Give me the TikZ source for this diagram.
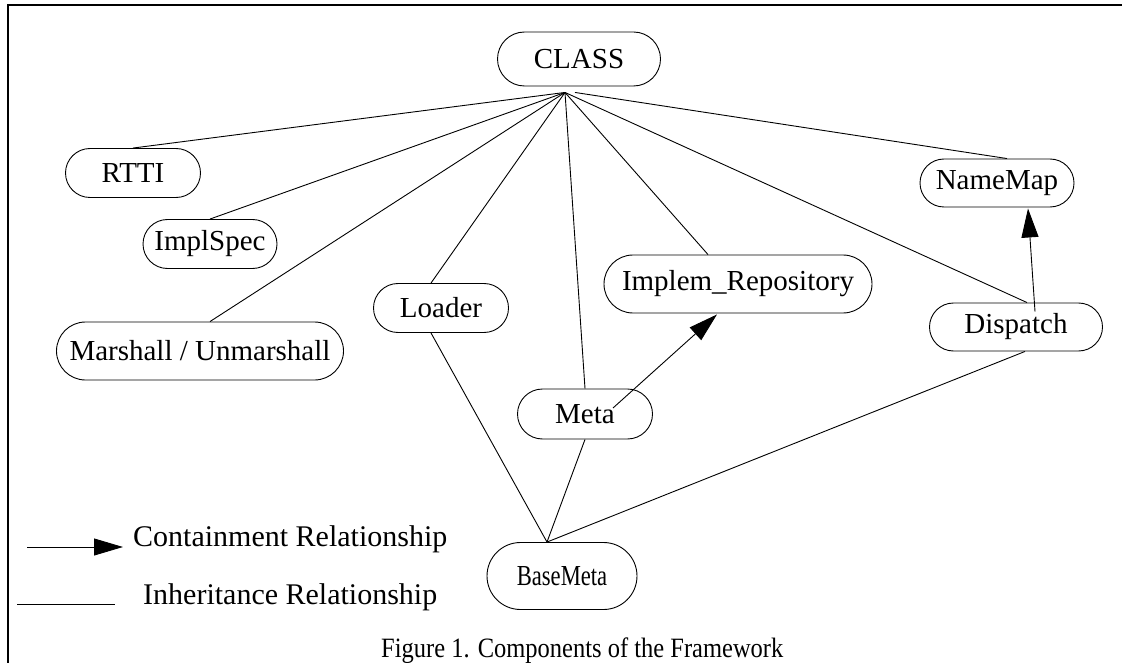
\documentclass[tikz,border=0pt]{standalone}
\usepackage{fontspec}
\setmainfont{Liberation Serif}
\usetikzlibrary{calc, arrows.meta, shapes.misc}

\tikzset{
	comp/.style={draw, rounded rectangle, inner sep=0pt, line width=0.9pt,
		font=\fontsize{29}{32}\selectfont},
	inherit/.style={line width=0.9pt},
	contain/.style={line width=0.9pt, -{Triangle[length=29pt, width=17pt]}},
}

\begin{document}
\begin{tikzpicture}[x=1pt, y=-1pt]
			\useasboundingbox (0,0) rectangle (1122,663);

			% frame
			\draw[line width=1.6pt] (8,663) -- (8,5) -- (1122,5);

			% components
			\node[comp, minimum width=163, minimum height=54] (CLASS) at (579,59) {CLASS};
			\node[comp, minimum width=135, minimum height=49] (RTTI) at (133,173) {RTTI};
			\node[comp, minimum width=134, minimum height=49] (ImplSpec) at (210,244) {ImplSpec};
			\node[comp, minimum width=287, minimum height=58] (Marshall) at (200,351) {Marshall / Unmarshall};
			\node[comp, minimum width=135, minimum height=49] (Loader) at (441,308) {Loader};
			\node[comp, minimum width=268, minimum height=58] (Implem) at (738,284) {Implem\_Repository};
			\node[comp, minimum width=135, minimum height=50] (Meta) at (585,414) {Meta};
			\node[comp, minimum width=173, minimum height=48] (Dispatch) at (1016,327) {Dispatch};
			\node[comp, minimum width=154, minimum height=48] (NameMap) at (997,183) {NameMap};
			\node[comp, minimum width=150, minimum height=67] (BaseMeta) at (562,576) {\scalebox{0.78}[1]{BaseMeta}};

			\coordinate (hub) at ($(CLASS.south)+(-14,6)$);
			\coordinate (hubB) at ($(CLASS.south)+(-4,6)$);

			% inheritance
			\begin{scope}[inherit]
				\foreach \n/\dx in {RTTI/0, ImplSpec/0, Marshall/10, Loader/-10, Meta/0, Implem/-30, Dispatch/11}
				{
					\draw (hub) -- ($(\n.north)+(\dx,0)$);
				}
				\draw (hubB) -- ($(NameMap.north)+(10,0)$);
				\foreach \n/\dx in {Loader/-10, Meta/0, Dispatch/9}
				{
					\draw ($(\n.south)+(\dx,0)$) -- ($(BaseMeta.north)+(-15,0)$);
				}
			\end{scope}

			% containment
			\begin{scope}[contain]
				\draw ($(Meta.center)+(28,-6)$) -- ($(Implem.south)+(-21,1)$);
				\draw ($(Dispatch.north)+(19,9)$) -- ($(NameMap.south)+(31,1)$);
			\end{scope}

			% legend
			\coordinate (legAs) at (27,547);
			\coordinate (legAe) at (123,547);
			\coordinate (legBs) at (17,604);
			\coordinate (legBe) at (115,604);
			\draw[contain] (legAs) -- (legAe);
			\draw[inherit] (legBs) -- (legBe);
			\node[anchor=base west, inner sep=0pt, font=\fontsize{30}{33}\selectfont] (legA) at (133,546) {Containment Relationship};
			\node[anchor=base west, inner sep=0pt, font=\fontsize{30}{33}\selectfont] (legB) at (143,604) {Inheritance Relationship};

			% caption
			\node[anchor=base west, inner sep=0pt, font=\fontsize{28}{31}\selectfont] (caption) at (381,657) {\scalebox{0.875}[1]{Figure 1. Components of the Framework}};
		\end{tikzpicture}
\end{document}
